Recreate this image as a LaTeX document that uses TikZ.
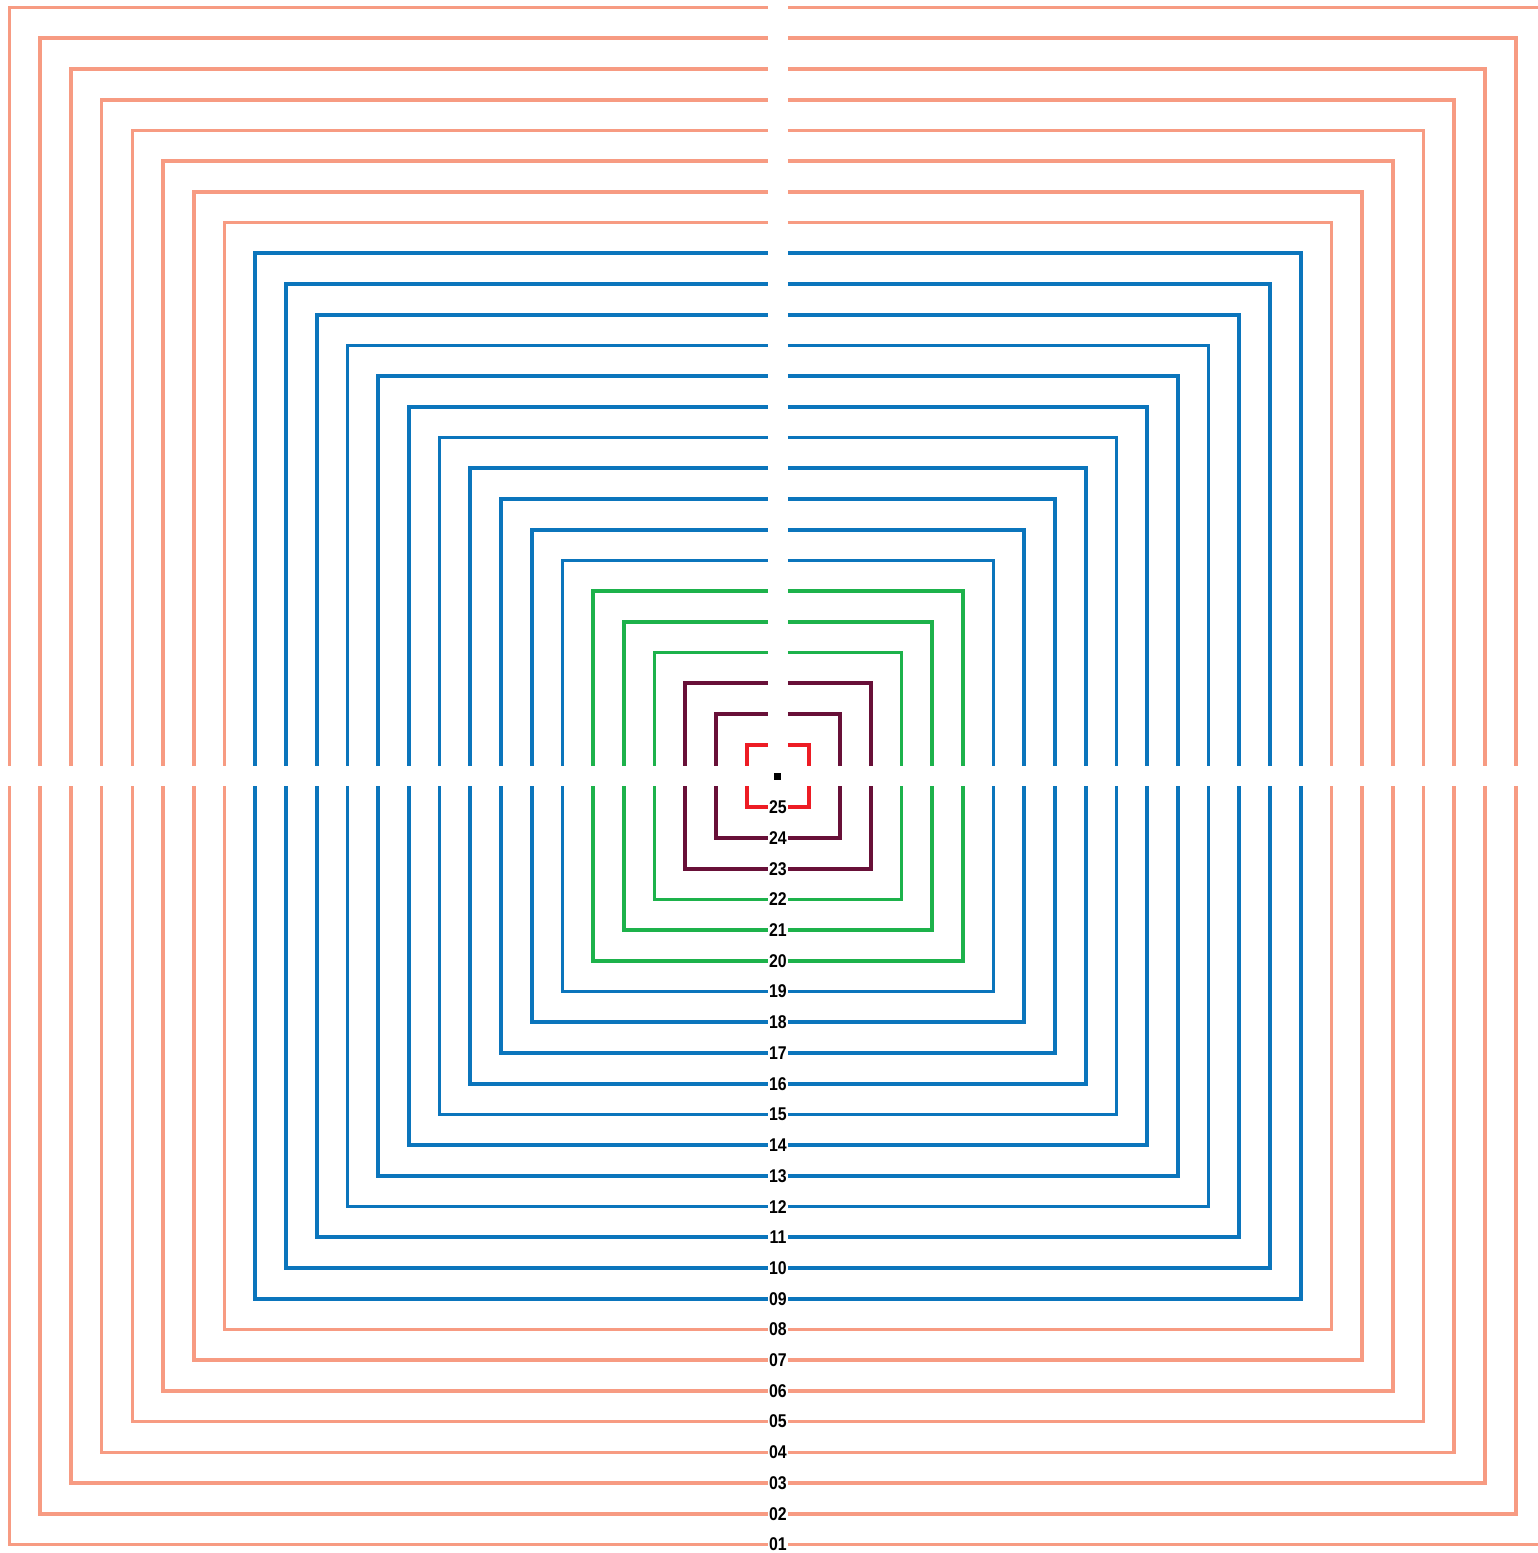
\documentclass[tikz,border=0pt]{standalone}
\usepackage{fontspec}
\setsansfont[FakeStretch=0.86]{Liberation Sans}
\usetikzlibrary{calc}
\definecolor{csal}{RGB}{247,155,130}
\definecolor{cblu}{RGB}{11,117,188}
\definecolor{cgrn}{RGB}{29,178,75}
\definecolor{cmar}{RGB}{104,16,56}
\definecolor{cred}{RGB}{237,28,36}

% one square ring k (1 = outer) in colour #2, gaps of +-10 on both axes
\newcommand\sqring[2]{%
  \pgfmathsetmacro\hh{768.5-(#1-1)*30.72}
  \draw[ring,#2] (-10,\hh) -- (-\hh,\hh) -- (-\hh,10);
  \draw[ring,#2] (10,\hh) -- (\hh,\hh) -- (\hh,10);
  \draw[ring,#2] (-\hh,-10) -- (-\hh,-\hh) -- (-10,-\hh);
  \draw[ring,#2] (\hh,-10) -- (\hh,-\hh) -- (10,-\hh);
  \node[num] (n#1) at (0,-\hh) {\ifnum#1<10 0\fi#1};
}

\begin{document}
\begin{tikzpicture}[
  x=0.02cm,y=0.02cm,
  ring/.style={line width=2.1pt,line join=miter,line cap=butt},
  num/.style={inner sep=0pt,font=\sffamily\bfseries\fontsize{10.5}{11}\selectfont}
]
\useasboundingbox (-778,-777) rectangle (760,776);

% ---- outer rings ----
\foreach \k in {1,...,8} {\sqring{\k}{csal}}
% ---- middle rings ----
\foreach \k in {9,...,19} {\sqring{\k}{cblu}}
\foreach \k in {20,...,22} {\sqring{\k}{cgrn}}
% ---- inner rings ----
\foreach \k in {23,24} {\sqring{\k}{cmar}}
\sqring{25}{cred}

% ---- centre ----
\fill (-3.5,-3.5) rectangle (3.5,3.5);
\end{tikzpicture}
\end{document}
